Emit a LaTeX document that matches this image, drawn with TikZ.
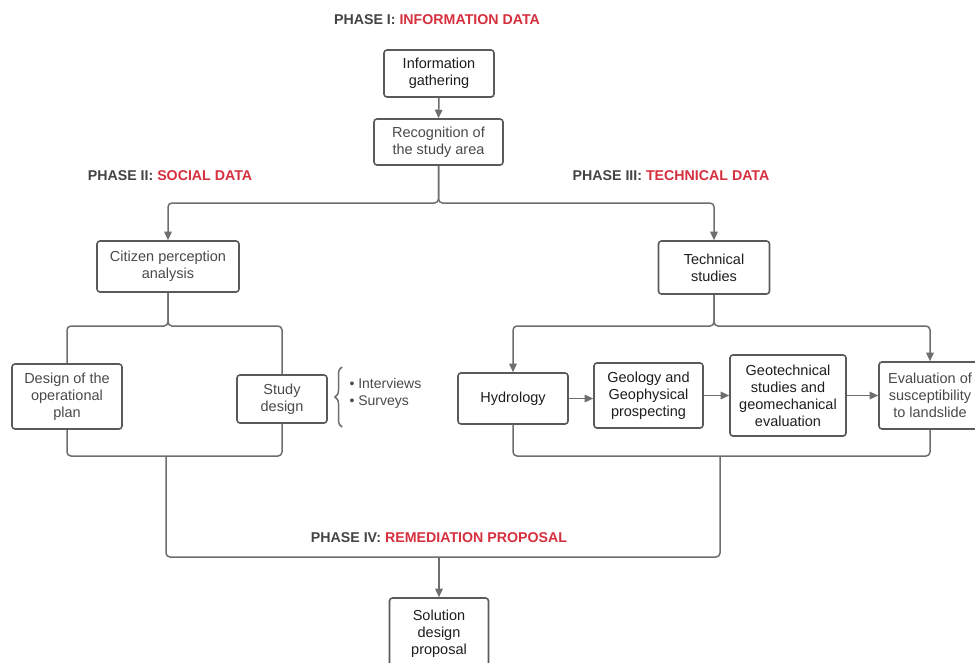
\documentclass[tikz,border=0pt]{standalone}
\usepackage{fontspec}
\setmainfont{Liberation Sans}
\usetikzlibrary{arrows.meta,decorations.pathreplacing}
\definecolor{phasered}{HTML}{D6303F}
\definecolor{phasegray}{HTML}{444444}
\definecolor{boxline}{HTML}{5A5A5A}
\definecolor{conline}{HTML}{6E6E6E}
\definecolor{txtdark}{HTML}{1E1E1E}
\definecolor{txtgray}{HTML}{4A4A4A}
\begin{document}
\begin{tikzpicture}[x=1pt,y=-1pt,
 box/.style={draw=boxline, line width=1.6pt, rounded corners=3pt, align=center, inner sep=2pt, font=\fontsize{14.5}{17}\selectfont, text=txtdark},
 graybox/.style={box, text=txtgray},
 conn/.style={draw=conline, line width=1.5pt, rounded corners=4pt},
 arr/.style={conn, -{Triangle[length=8.5pt,width=7.5pt]}},
 phase/.style={font=\fontsize{14.2}{16}\selectfont\bfseries, text=phasegray},
]
\clip (0,0) rectangle (975,662);
\fill[white] (0,0) rectangle (975,662);

% phase labels
\node[phase] (p1) at (437,20) {PHASE I: \textcolor{phasered}{INFORMATION DATA}};
\node[phase] (p2) at (170,176) {PHASE II: \textcolor{phasered}{SOCIAL DATA}};
\node[phase] (p3) at (671,176) {PHASE III: \textcolor{phasered}{TECHNICAL DATA}};
\node[phase] (p4) at (439,538) {PHASE IV: \textcolor{phasered}{REMEDIATION PROPOSAL}};

% boxes
\node[box, minimum width=110, minimum height=47] (info) at (439,73.5) {Information\\gathering};
\node[graybox, minimum width=129, minimum height=46] (recog) at (438.5,142) {Recognition of\\the study area};
\node[graybox, minimum width=142, minimum height=51] (citizen) at (168,266.5) {Citizen perception\\analysis};
\node[box, minimum width=111, minimum height=53] (tech) at (714,267.5) {Technical\\studies};
\node[graybox, minimum width=110, minimum height=65] (design) at (67,396.5) {Design of the\\operational\\plan};
\node[graybox, minimum width=90, minimum height=48] (study) at (282,399) {Study\\design};
\node[box, minimum width=110, minimum height=51] (hydro) at (513,398.5) {Hydrology};
\node[box, minimum width=109, minimum height=65] (geo) at (648.5,395.5) {Geology and\\Geophysical\\prospecting};
\node[box, minimum width=116, minimum height=81] (geot) at (788,395.5) {Geotechnical\\studies and\\geomechanical\\evaluation};
\node[graybox, minimum width=102, minimum height=67] (eval) at (930,395.5) {Evaluation of\\susceptibility\\to landslide};
\node[box, minimum width=99, minimum height=72] (sol) at (439,634) {Solution\\design\\proposal};

% bullets and brace
\node[font=\fontsize{14}{17}\selectfont, text=txtgray, align=left, anchor=west] (bul) at (346,393.5) {• Interviews\\• Surveys};
\draw[conline, line width=1.5pt, decorate, decoration={brace, amplitude=7pt}] (342,427) -- (342,367);

% coordinates
\coordinate (j0) at (438.5,203);
\coordinate (j1) at (170,326);
\coordinate (j2) at (714,326);
\coordinate (bl) at (166,456);
\coordinate (br) at (720,456);
\coordinate (bb) at (439,557);

% connectors
\draw[arr] (info.south) -- (recog.north);
\draw[arr] (recog.south) |- (citizen.north |- j0) -- (citizen.north);
\draw[arr] (recog.south) |- (tech.north |- j0) -- (tech.north);
\draw[conn] (citizen.south) |- (design.north |- j1) -- (design.north);
\draw[conn] (citizen.south) |- (study.north |- j1) -- (study.north);
\draw[arr] (tech.south) |- (hydro.north |- j2) -- (hydro.north);
\draw[arr] (tech.south) |- (eval.north |- j2) -- (eval.north);
\draw[arr] (hydro.east) -- (hydro.east -| geo.west);
\draw[arr] (geo.east) -- (geot.west);
\draw[arr] (geot.east) -- (eval.west);
\draw[conn] (design.south) |- (study.south |- bl) -- (study.south);
\draw[conn] (hydro.south) |- (eval.south |- br) -- (eval.south);
\draw[conn] (bl) |- (bb) -| (br);
\draw[arr] (bb) -- (sol.north);
\end{tikzpicture}
\end{document}
